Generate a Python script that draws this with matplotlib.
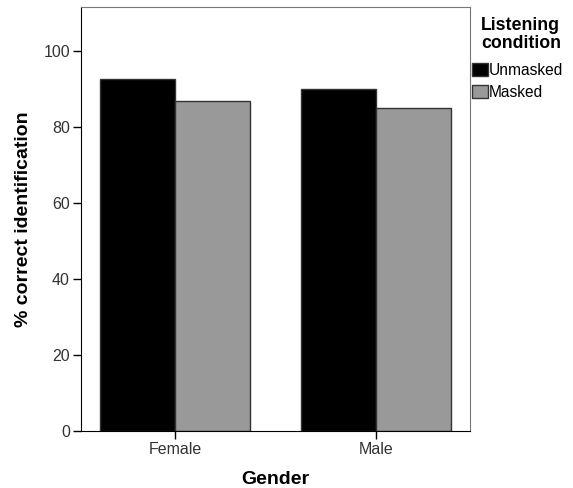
import matplotlib.pyplot as plt
import numpy as np
from matplotlib.patches import Patch

plt.rcParams["font.family"] = ["Liberation Sans", "DejaVu Sans"]

genders = ["Female", "Male"]
unmasked = [92.6, 90.0]
masked = [86.8, 84.9]

x = np.arange(len(genders))
w = 0.375

fig = plt.figure(figsize=(5.73, 4.88), dpi=100)
ax = fig.add_axes([0.1414, 0.1168, 0.6786, 0.8689])

ax.bar(x - w / 2, unmasked, w, color="black", edgecolor="#333333", linewidth=1)
ax.bar(x + w / 2, masked, w, color="#999999", edgecolor="#333333", linewidth=1)

ax.set_xlim(-0.468, 1.467)
ax.set_ylim(0, 111.6)
ax.set_xticks(x)
ax.set_xticklabels(genders)
ax.set_yticks(range(0, 101, 20))
ax.tick_params(labelsize=11.5, colors="black", labelcolor="#333333", length=6, width=1, pad=2)

for s in ["left", "bottom"]:
    ax.spines[s].set_color("black")
for s in ["top", "right"]:
    ax.spines[s].set_color("#777777")

ax.set_xlabel("Gender", fontsize=14, fontweight="bold", labelpad=10)
ax.set_ylabel("% correct identification", fontsize=14, fontweight="bold", labelpad=8)

# legend title drawn separately so the gap to the entries matches
fig.text(481 / 573, 1 - 17 / 488, "Listening\ncondition", ha="left", va="top",
         fontsize=12.8, fontweight="bold", linespacing=1.1)

handles = [
    Patch(facecolor="black", edgecolor="#333333", label="Unmasked"),
    Patch(facecolor="#999999", edgecolor="#333333", label="Masked"),
]
fig.legend(
    handles=handles,
    loc="upper left",
    bbox_to_anchor=(472 / 573, 1 - 63 / 488),
    frameon=False,
    fontsize=11.2,
    handlelength=1.0,
    handleheight=0.95,
    handletextpad=0.05,
    labelspacing=0.42,
    borderpad=0,
    borderaxespad=0,
)

fig.savefig("out.png", dpi=100)
